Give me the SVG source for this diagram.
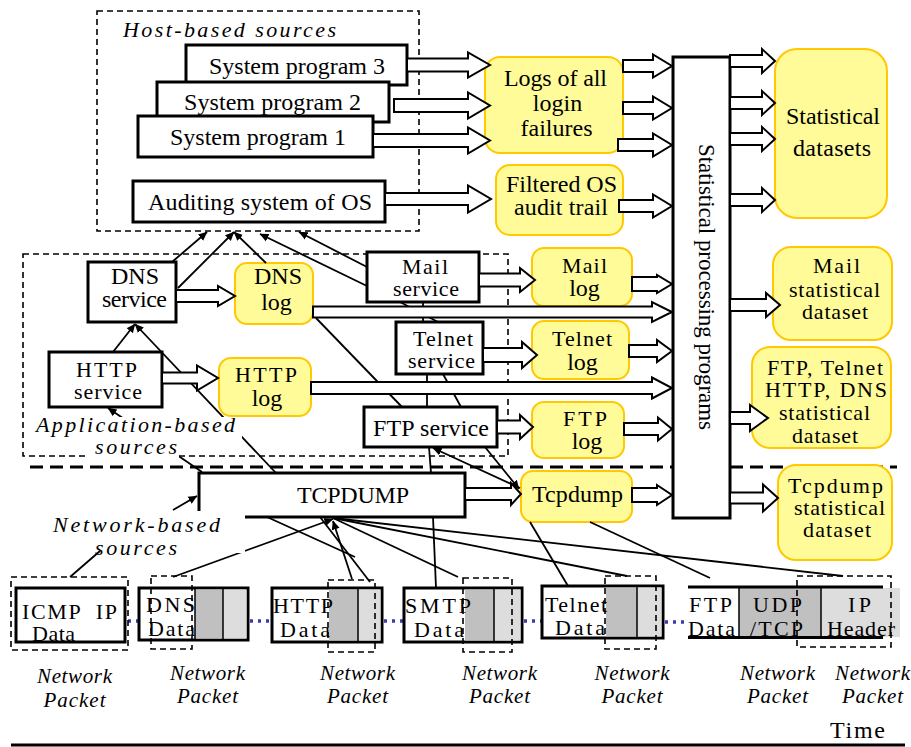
<svg xmlns="http://www.w3.org/2000/svg" width="911" height="747" viewBox="0 0 911 747" font-family="'Liberation Serif', 'Times New Roman', serif">
<style>
.box{fill:#fff;stroke:#000;stroke-width:3}
.log{fill:#FFFB99;stroke:#FFC800;stroke-width:2}
.t{font-family:'Liberation Serif','Times New Roman',serif;font-size:24px;fill:#000}
.s{font-size:22px}
.m{text-anchor:middle}
.it{font-style:italic;font-size:22px}
.np{font-style:italic;font-size:21px;text-anchor:middle}
.ba{fill:#fff;stroke:#000;stroke-width:2}
.ln{stroke:#000;stroke-width:1.8;fill:none}
.lna{stroke:#000;stroke-width:1.8;fill:none;marker-end:url(#ah)}
.dash{fill:none;stroke:#000;stroke-width:1.6;stroke-dasharray:6 4}
.g1{fill:#C0C0C0}
.g2{fill:#DDDDDD}
.dot{stroke:#3A3AB0;stroke-width:3.5;stroke-dasharray:3 5;fill:none}
.bg{fill:#fff}
</style>
<defs>
<marker id="ah" viewBox="0 0 10 10" refX="9.5" refY="5" markerWidth="9" markerHeight="9" markerUnits="userSpaceOnUse" orient="auto">
<path d="M0,0.5 L10,5 L0,9.5 z" fill="#000"/>
</marker>
</defs>
<rect width="911" height="747" fill="#fff"/>

<g id="regions">
<rect class="dash" x="97" y="11" width="322" height="220"/>
<rect class="dash" x="23" y="254" width="485" height="202"/>
<line x1="30" y1="467" x2="897" y2="467" stroke="#000" stroke-width="3" stroke-dasharray="13 7"/>
<g class="dot">
<line x1="128" y1="621" x2="139" y2="621"/>
<line x1="250" y1="621" x2="272" y2="621"/>
<line x1="384" y1="621" x2="404" y2="621"/>
<line x1="524" y1="621" x2="542" y2="621"/>
<line x1="665" y1="622" x2="688" y2="622"/>
</g>
<line x1="11" y1="745" x2="905" y2="745" stroke="#000" stroke-width="3"/>
</g>

<g id="sysprog3"><rect class="box" x="186" y="45" width="221" height="40"/><text class="t" x="209" y="74" textLength="176">System program 3</text></g>
<g id="sysprog2"><rect class="box" x="157" y="82" width="232" height="40"/><text class="t" x="184" y="110" textLength="177">System program 2</text></g>
<g id="sysprog1"><rect class="box" x="138" y="116" width="235" height="41"/><text class="t" x="170" y="145" textLength="176">System program 1</text></g>
<g id="auditing"><rect class="box" x="133" y="181" width="252" height="41"/><text class="t" x="148" y="210" textLength="224">Auditing system of OS</text></g>

<g id="logs-login"><rect class="log" x="485" y="57" width="138" height="96" rx="15"/>
<text class="t m" x="555.5" y="86" textLength="103">Logs of all</text>
<text class="t m" x="557.5" y="111">login</text>
<text class="t m" x="556.5" y="136">failures</text></g>
<g id="filtered-os"><rect class="log" x="496" y="165" width="127" height="70" rx="14"/>
<text class="t m" x="561.5" y="192" textLength="111">Filtered OS</text>
<text class="t m" x="561" y="215" textLength="94">audit trail</text></g>

<g id="spp"><rect class="box" x="673" y="57" width="57" height="461"/>
<text class="t" transform="translate(699,144) rotate(90)" style="font-size:23px" textLength="286">Statistical processing programs</text></g>

<g id="stat-datasets"><rect class="log" x="775" y="49" width="112" height="169" rx="22"/>
<text class="t m" x="833" y="124" textLength="94">Statistical</text>
<text class="t m" x="832" y="156" textLength="78">datasets</text></g>

<g id="dns-service"><rect class="box" x="88" y="262" width="88" height="60"/>
<text class="t m" x="135" y="284">DNS</text><text class="t m" x="134.5" y="307" textLength="65">service</text></g>
<g id="dns-log"><rect class="log" x="235" y="263" width="78" height="61" rx="12"/>
<text class="t m" x="278" y="284">DNS</text><text class="t m" x="276.5" y="310">log</text></g>
<g id="http-service"><rect class="box" x="49" y="352" width="113" height="55"/>
<text class="t s m" x="106.5" y="377" textLength="61">HTTP</text><text class="t s m" x="108" y="399" textLength="68">service</text></g>
<g id="http-log"><rect class="log" x="219" y="358" width="92" height="58" rx="12"/>
<text class="t s m" x="266" y="382" textLength="62">HTTP</text><text class="t m" x="267" y="406">log</text></g>

<g id="mail-service"><rect class="box" x="367" y="252" width="112" height="50"/>
<text class="t s m" x="425" y="274" textLength="46">Mail</text><text class="t s m" x="426" y="296" textLength="66">service</text></g>
<g id="telnet-service"><rect class="box" x="396" y="322" width="87" height="52"/>
<text class="t s m" x="443" y="346" textLength="60">Telnet</text><text class="t s m" x="441.5" y="368" textLength="67">service</text></g>
<g id="ftp-service"><rect class="box" x="364" y="407" width="133" height="40"/>
<text class="t m" x="431" y="436" textLength="116">FTP service</text></g>

<g id="mail-log"><rect class="log" x="532" y="248" width="100" height="58" rx="12"/>
<text class="t s m" x="584.5" y="273" textLength="45">Mail</text><text class="t m" x="584.5" y="296">log</text></g>
<g id="telnet-log"><rect class="log" x="532" y="321" width="97" height="58" rx="12"/>
<text class="t s m" x="582" y="346" textLength="60">Telnet</text><text class="t m" x="582.5" y="370">log</text></g>
<g id="ftp-log"><rect class="log" x="532" y="402" width="92" height="56" rx="12"/>
<text class="t s m" x="585" y="426" textLength="44">FTP</text><text class="t m" x="587" y="449">log</text></g>

<g id="mail-stat"><rect class="log" x="773" y="247" width="119" height="93" rx="18"/>
<text class="t s m" x="836.5" y="273" textLength="47">Mail</text>
<text class="t s m" x="834.5" y="297" textLength="91">statistical</text>
<text class="t s m" x="835" y="319" textLength="66">dataset</text></g>
<g id="ftp-telnet-http-dns-stat"><rect class="log" x="752" y="347" width="139" height="101" rx="18"/>
<text class="t s m" x="825" y="375" textLength="116">FTP, Telnet</text>
<text class="t s m" x="826" y="397" textLength="122">HTTP, DNS</text>
<text class="t s m" x="824.5" y="420" textLength="91">statistical</text>
<text class="t s m" x="825" y="443" textLength="66">dataset</text></g>

<g id="tcpdump-box"><rect class="box" x="199" y="473" width="266" height="44"/>
<text class="t m" x="353" y="503" textLength="112">TCPDUMP</text></g>
<g id="tcpdump-log"><rect class="log" x="521" y="471" width="111" height="51" rx="12"/>
<text class="t m" x="577.5" y="502" textLength="91">Tcpdump</text></g>
<g id="tcpdump-stat"><rect class="log" x="778" y="465" width="114" height="95" rx="18"/>
<text class="t s m" x="835.5" y="493" textLength="95">Tcpdump</text>
<text class="t s m" x="839.5" y="515" textLength="91">statistical</text>
<text class="t s m" x="837" y="537" textLength="68">dataset</text></g>

<g id="pkt-icmp"><rect class="box" x="16" y="588" width="109" height="54"/>
<text class="t s" x="22" y="619" style="white-space:pre" textLength="95">ICMP  IP</text>
<text class="t s" x="32" y="641" textLength="43">Data</text>
<rect class="dash" x="11" y="577" width="117" height="73"/></g>

<g id="pkt-dns"><rect class="box" x="139" y="588" width="109" height="52"/>
<rect class="g1" x="195" y="589.5" width="28" height="49"/><rect class="g2" x="223" y="589.5" width="23.5" height="49"/>
<line x1="195" y1="588" x2="195" y2="640" stroke="#000" stroke-width="1.5"/><line x1="223" y1="588" x2="223" y2="640" stroke="#000" stroke-width="1.5"/>
<text class="t s" x="146" y="612" textLength="49">DNS</text><text class="t s" x="148" y="636" textLength="47">Data</text>
<rect class="dash" x="151" y="576" width="41" height="73"/></g>

<g id="pkt-http"><rect class="box" x="272" y="588" width="110" height="54"/>
<rect class="g1" x="329" y="589.5" width="29" height="51"/><rect class="g2" x="358" y="589.5" width="22.5" height="51"/>
<line x1="358" y1="588" x2="358" y2="642" stroke="#000" stroke-width="1.5"/>
<text class="t s" x="273" y="613" textLength="60">HTTP</text><text class="t s" x="280" y="637" textLength="50">Data</text>
<rect class="dash" x="328" y="580" width="47" height="72"/></g>

<g id="pkt-smtp"><rect class="box" x="404" y="588" width="118" height="54"/>
<rect class="g1" x="465" y="589.5" width="29" height="51"/><rect class="g2" x="494" y="589.5" width="26.5" height="51"/>
<line x1="494" y1="588" x2="494" y2="642" stroke="#000" stroke-width="1.5"/>
<text class="t s" x="405" y="613" textLength="66">SMTP</text><text class="t s" x="414" y="637" textLength="50">Data</text>
<rect class="dash" x="463" y="578" width="49" height="74"/></g>

<g id="pkt-telnet"><rect class="box" x="542" y="586" width="121" height="52"/>
<rect class="g1" x="606" y="587.5" width="31" height="49"/><rect class="g2" x="637" y="587.5" width="24.5" height="49"/>
<line x1="637" y1="586" x2="637" y2="638" stroke="#000" stroke-width="1.5"/>
<text class="t s" x="545" y="612" textLength="62">Telnet</text><text class="t s" x="555" y="635" textLength="50">Data</text>
<rect class="dash" x="605" y="576" width="51" height="73"/></g>

<g id="pkt-ftp"><rect class="g1" x="739" y="588" width="82" height="49"/><rect class="g2" x="821" y="588" width="79" height="49"/>
<line x1="688" y1="587" x2="883" y2="587" stroke="#000" stroke-width="3"/><line x1="688" y1="637.5" x2="883" y2="637.5" stroke="#000" stroke-width="3"/>
<line x1="739" y1="587" x2="739" y2="637" stroke="#000" stroke-width="1.5"/><line x1="821" y1="587" x2="821" y2="637" stroke="#000" stroke-width="1.5"/>
<text class="t s" x="689" y="612" textLength="43">FTP</text><text class="t s" x="688" y="636" textLength="47">Data</text>
<text class="t s" x="753" y="612" textLength="49">UDP</text><text class="t s" x="750" y="636" textLength="53">/TCP</text>
<text class="t s" x="848" y="612" textLength="23">IP</text><text class="t s" x="827" y="636" textLength="68">Header</text>
<rect class="dash" x="797" y="576" width="94" height="71"/></g>

<g id="connectors">
<path class="lna" d="M172,262 L207,232"/>
<path class="lna" d="M178,288 L234,232"/>
<path class="lna" d="M266,263 L234,232"/>
<path class="lna" d="M367,286 L260,234"/>
<path class="lna" d="M367,267 L299,232"/>
<path class="lna" d="M113,352 L135,324"/>
<path class="lna" d="M276,473 L135,324"/>
<path class="lna" d="M202,472 L108,408"/>
<path class="ln" d="M316,318 L402,407"/>
<path class="ln" d="M400,302 L438,322"/>
<path class="ln" d="M423,302 L423,322"/>
<path class="ln" d="M427,374 L427,407"/>
<path class="ln" d="M443,374 L461,407"/>
<path class="ln" d="M429,447 L431,473"/>
<path class="ln" d="M433,517 L436,588"/>
<path class="lna" d="M520,488 L433,448"/>
<path class="lna" d="M485,447 L519,489"/>
<path class="lna" d="M173,577 L333,519"/>
<path class="lna" d="M352,579 L333,521"/>
<path class="ln" d="M267,517 L355,557"/>
<path class="ln" d="M320,517 L370,582"/>
<path class="ln" d="M333,518 L458,577"/>
<path class="ln" d="M333,518 L627,576"/>
<path class="ln" d="M333,518 L843,576"/>
<path class="ln" d="M530,522 L568,586"/>
<path class="ln" d="M590,522 L710,578"/>
<polygon class="ba" points="407,58.5 468,58.5 468,52.5 490,65 468,77.5 468,71.5 407,71.5"/>
<polygon class="ba" points="394,99 468,99 468,92.5 490,105.5 468,118.5 468,112 394,112"/>
<polygon class="ba" points="373,134 468,134 468,127.5 490,140.5 468,153.5 468,147 373,147"/>
<polygon class="ba" points="385,193 468,193 468,185.5 491,199 468,212.5 468,205 385,205"/>
<polygon class="ba" points="623,60 653,60 653,54.5 672,66 653,77.5 653,72 623,72"/>
<polygon class="ba" points="623,102 653,102 653,96.5 672,108 653,119.5 653,114 623,114"/>
<polygon class="ba" points="618,139 653,139 653,133.5 672,145 653,156.5 653,151 618,151"/>
<polygon class="ba" points="619,200 653,200 653,194.5 672,206 653,217.5 653,212 619,212"/>
<polygon class="ba" points="730,55 762,55 762,49 775,61 762,73 762,67 730,67"/>
<polygon class="ba" points="730,97 762,97 762,91 775,103 762,115 762,109 730,109"/>
<polygon class="ba" points="730,133 762,133 762,127 775,139 762,151 762,145 730,145"/>
<polygon class="ba" points="730,194 762,194 762,188 775,200 762,212 762,206 730,206"/>
<polygon class="ba" points="176,290 218,290 218,286 235,296 218,306 218,302 176,302"/>
<polygon class="ba" points="162,372.5 197,372.5 197,365.5 218,378 197,390.5 197,383.5 162,383.5"/>
<polygon class="ba" points="479,273.5 520,273.5 520,268 535,280 520,292 520,286.5 479,286.5"/>
<polygon class="ba" points="483,348 522,348 522,342 537,355 522,368 522,362 483,362"/>
<polygon class="ba" points="497,420.5 520,420.5 520,415 533,427 520,439 520,433.5 497,433.5"/>
<polygon class="ba" points="313,306.5 652,306.5 652,302 672,312 652,322 652,317.5 313,317.5"/>
<polygon class="ba" points="311,382 652,382 652,377.5 672,388 652,398.5 652,394 311,394"/>
<polygon class="ba" points="632,277 657,277 657,275 672,284 657,293 657,291 632,291"/>
<polygon class="ba" points="629,345 657,345 657,340 672,351 657,362 657,357 629,357"/>
<polygon class="ba" points="624,423 658,423 658,417.5 672,429 658,440.5 658,435 624,435"/>
<polygon class="ba" points="730,299 766,299 766,293 780,305 766,317 766,311 730,311"/>
<polygon class="ba" points="730,412 750,412 750,405 768,418 750,431 750,424 730,424"/>
<polygon class="ba" points="465,488 511,488 511,483 521,494 511,505 511,500 465,500"/>
<polygon class="ba" points="632,488 657,488 657,485 672,495 657,505 657,502 632,502"/>
<polygon class="ba" points="730,492.5 763,492.5 763,484.5 778,498 763,511.5 763,503.5 730,503.5"/>
</g>

<g id="labels">
<text class="t it" x="123" y="37" textLength="213">Host-based sources</text>
<rect class="bg" x="30" y="417" width="212" height="23"/>
<rect class="bg" x="88" y="440" width="91" height="21"/>
<text class="t it" x="36" y="432" textLength="199">Application-based</text>
<text class="t it" x="95" y="454" textLength="82">sources</text>
<rect class="bg" x="45" y="511" width="200" height="42"/>
<text class="t it" x="53" y="532" textLength="167">Network-based</text>
<text class="t it" x="95" y="555" textLength="82">sources</text>
<path class="lna" d="M173,510 L197,496"/>
<path class="ln" d="M100,551 L70,577"/>
<g class="t np">
<text x="74.5" y="683" textLength="75">Network</text><text x="74.5" y="707" textLength="62">Packet</text>
<text x="207.5" y="680" textLength="75">Network</text><text x="207.5" y="703" textLength="61">Packet</text>
<text x="357.5" y="680" textLength="75">Network</text><text x="357.5" y="703" textLength="61">Packet</text>
<text x="499.5" y="680" textLength="75">Network</text><text x="499.5" y="703" textLength="61">Packet</text>
<text x="632" y="680" textLength="75">Network</text><text x="632" y="703" textLength="61">Packet</text>
<text x="777.5" y="680" textLength="75">Network</text><text x="777.5" y="703" textLength="61">Packet</text>
<text x="872.5" y="680" textLength="75">Network</text><text x="872.5" y="703" textLength="61">Packet</text>
</g>
<text class="t" x="830" y="738" textLength="55">Time</text>
</g>
</svg>
